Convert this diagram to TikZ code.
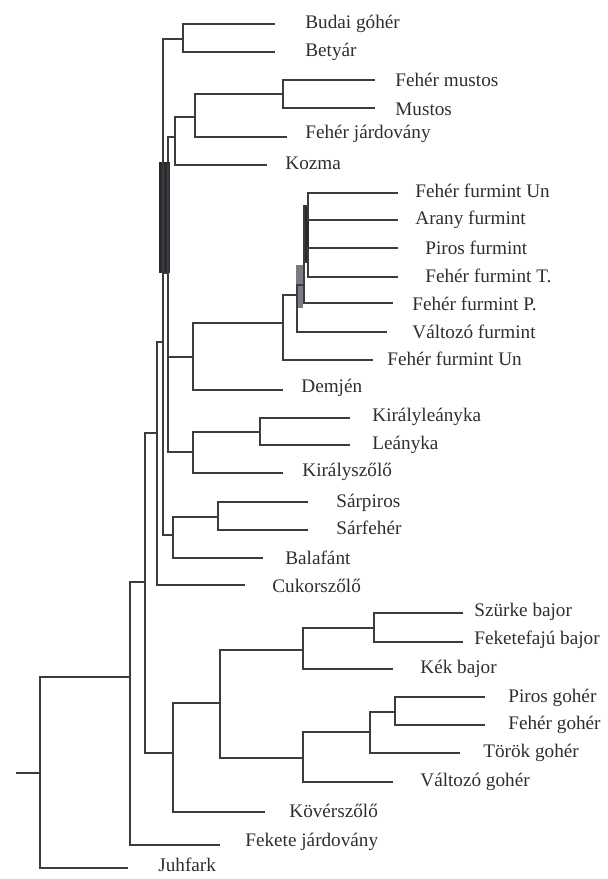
\documentclass[tikz,border=0pt]{standalone}
\usepackage{fontspec}
\setmainfont{Liberation Serif}
\usepackage{tikz}
\definecolor{branch}{HTML}{3C3C3C}
\definecolor{overlap}{HTML}{2A2A30}
\definecolor{overlapgray}{HTML}{7A7A80}
\definecolor{labeltext}{HTML}{2E2E2E}
\tikzset{
  br/.style={branch,line width=1.4pt},
  leaf/.style={anchor=west,inner sep=0pt,text=labeltext,font=\fontsize{9.6}{11}\selectfont}
}

\begin{document}
\begin{tikzpicture}[x=0.5pt,y=-0.5pt]
  \useasboundingbox (0,0) rectangle (608,879);

  % internal nodes (x of vertical, y where it hangs)
  \coordinate (root) at (40,773);
  \coordinate (stem) at (16,773);
  \coordinate (n1) at (130,677);
  \coordinate (n2) at (145,582);
  \coordinate (n3) at (157,433);
  \coordinate (va) at (163,342);
  \coordinate (vb) at (168,273);
  \coordinate (nbud) at (183,39);
  \coordinate (nk) at (175,137);
  \coordinate (nm) at (195,117);
  \coordinate (nmus) at (283,94);
  \coordinate (nd) at (193,357);
  \coordinate (nf1) at (283,323);
  \coordinate (nf2) at (297,295);
  \coordinate (nf3) at (304,285);
  \coordinate (nf4) at (308,206);
  \coordinate (nf5) at (308,262);
  \coordinate (nkl) at (193,452);
  \coordinate (nle) at (260,432);
  \coordinate (nsar) at (173,535);
  \coordinate (ns2) at (218,517);
  \coordinate (nb) at (173,753);
  \coordinate (nb1) at (220,703);
  \coordinate (nb2) at (303,650);
  \coordinate (nb3) at (374,628);
  \coordinate (ng1) at (303,758);
  \coordinate (ng2) at (370,732);
  \coordinate (ng3) at (395,712);

  % leaf tips
  \coordinate (t1) at (275,24);
  \coordinate (t2) at (275,52);
  \coordinate (t3) at (375,80);
  \coordinate (t4) at (375,108);
  \coordinate (t5) at (287,137);
  \coordinate (t6) at (267,165);
  \coordinate (t7) at (398,193);
  \coordinate (t8) at (398,220);
  \coordinate (t9) at (398,248);
  \coordinate (t10) at (398,277);
  \coordinate (t11) at (393,303);
  \coordinate (t12) at (387,332);
  \coordinate (t13) at (373,360);
  \coordinate (t14) at (283,390);
  \coordinate (t15) at (350,418);
  \coordinate (t16) at (350,445);
  \coordinate (t17) at (283,473);
  \coordinate (t18) at (308,502);
  \coordinate (t19) at (308,530);
  \coordinate (t20) at (263,558);
  \coordinate (t21) at (245,585);
  \coordinate (t22) at (463,613);
  \coordinate (t23) at (463,642);
  \coordinate (t24) at (393,669);
  \coordinate (t25) at (485,697);
  \coordinate (t26) at (485,725);
  \coordinate (t27) at (460,753);
  \coordinate (t28) at (393,782);
  \coordinate (t29) at (265,812);
  \coordinate (t30) at (220,845);
  \coordinate (t31) at (128,868);

  % overlapping verticals (dark bars)
  \fill[overlap] (159,162) rectangle (170,273);
  \fill[overlap] (303,205) rectangle (309,263);
  \fill[overlapgray] (296,265) rectangle (303,308);

  % branches
  \draw[br] (stem) -- (root);
  \draw[br] (root) |- (n1);
  \draw[br] (root) |- (t31);
  \draw[br] (n1) |- (n2);
  \draw[br] (n1) |- (t30);
  \draw[br] (n2) |- (n3);
  \draw[br] (n2) |- (nb);
  \draw[br] (n3) |- (va);
  \draw[br] (n3) |- (t21);
  \draw[br] (va) |- (nbud);
  \draw[br] (va) |- (nsar);
  \draw[br] (va) |- (vb);
  \draw[br] (vb) |- (nk);
  \draw[br] (vb) |- (nd);
  \draw[br] (vb) |- (nkl);
  \draw[br] (nbud) |- (t1);
  \draw[br] (nbud) |- (t2);
  \draw[br] (nk) |- (nm);
  \draw[br] (nk) |- (t6);
  \draw[br] (nm) |- (nmus);
  \draw[br] (nm) |- (t5);
  \draw[br] (nmus) |- (t3);
  \draw[br] (nmus) |- (t4);
  \draw[br] (nd) |- (nf1);
  \draw[br] (nd) |- (t14);
  \draw[br] (nf1) |- (nf2);
  \draw[br] (nf1) |- (t13);
  \draw[br] (nf2) |- (nf3);
  \draw[br] (nf2) |- (t12);
  \draw[br] (nf3) |- (nf4);
  \draw[br] (nf3) |- (nf5);
  \draw[br] (nf3) |- (t11);
  \draw[br] (nf4) |- (t7);
  \draw[br] (nf4) |- (t8);
  \draw[br] (nf5) |- (t9);
  \draw[br] (nf5) |- (t10);
  \draw[br] (nkl) |- (nle);
  \draw[br] (nkl) |- (t17);
  \draw[br] (nle) |- (t15);
  \draw[br] (nle) |- (t16);
  \draw[br] (nsar) |- (ns2);
  \draw[br] (nsar) |- (t20);
  \draw[br] (ns2) |- (t18);
  \draw[br] (ns2) |- (t19);
  \draw[br] (nb) |- (nb1);
  \draw[br] (nb) |- (t29);
  \draw[br] (nb1) |- (nb2);
  \draw[br] (nb1) |- (ng1);
  \draw[br] (nb2) |- (nb3);
  \draw[br] (nb2) |- (t24);
  \draw[br] (nb3) |- (t22);
  \draw[br] (nb3) |- (t23);
  \draw[br] (ng1) |- (ng2);
  \draw[br] (ng1) |- (t28);
  \draw[br] (ng2) |- (ng3);
  \draw[br] (ng2) |- (t27);
  \draw[br] (ng3) |- (t25);
  \draw[br] (ng3) |- (t26);

  % labels
  \node[leaf] (l1) at (305,24) {Budai góhér};
  \node[leaf] (l2) at (305,52) {Betyár};
  \node[leaf] (l3) at (395,80) {Fehér mustos};
  \node[leaf] (l4) at (395,109) {Mustos};
  \node[leaf] (l5) at (305,134) {Fehér járdovány};
  \node[leaf] (l6) at (285,163) {Kozma};
  \node[leaf] (l7) at (415,191) {Fehér furmint Un};
  \node[leaf] (l8) at (415,220) {Arany furmint};
  \node[leaf] (l9) at (425,248) {Piros furmint};
  \node[leaf] (l10) at (425,276) {Fehér furmint T.};
  \node[leaf] (l11) at (412,304) {Fehér furmint P.};
  \node[leaf] (l12) at (412,332) {Változó furmint};
  \node[leaf] (l13) at (387,359) {Fehér furmint Un};
  \node[leaf] (l14) at (301,388) {Demjén};
  \node[leaf] (l15) at (372,417) {Királyleányka};
  \node[leaf] (l16) at (372,445) {Leányka};
  \node[leaf] (l17) at (302,472) {Királyszőlő};
  \node[leaf] (l18) at (336,503) {Sárpiros};
  \node[leaf] (l19) at (336,528) {Sárfehér};
  \node[leaf] (l20) at (285,558) {Balafánt};
  \node[leaf] (l21) at (272,586) {Cukorszőlő};
  \node[leaf] (l22) at (474,612) {Szürke bajor};
  \node[leaf] (l23) at (474,640) {Feketefajú bajor};
  \node[leaf] (l24) at (420,669) {Kék bajor};
  \node[leaf] (l25) at (508,698) {Piros gohér};
  \node[leaf] (l26) at (508,725) {Fehér gohér};
  \node[leaf] (l27) at (483,753) {Török gohér};
  \node[leaf] (l28) at (420,782) {Változó gohér};
  \node[leaf] (l29) at (289,811) {Kövérszőlő};
  \node[leaf] (l30) at (245,842) {Fekete járdovány};
  \node[leaf] (l31) at (158,865) {Juhfark};

\end{tikzpicture}
\end{document}
